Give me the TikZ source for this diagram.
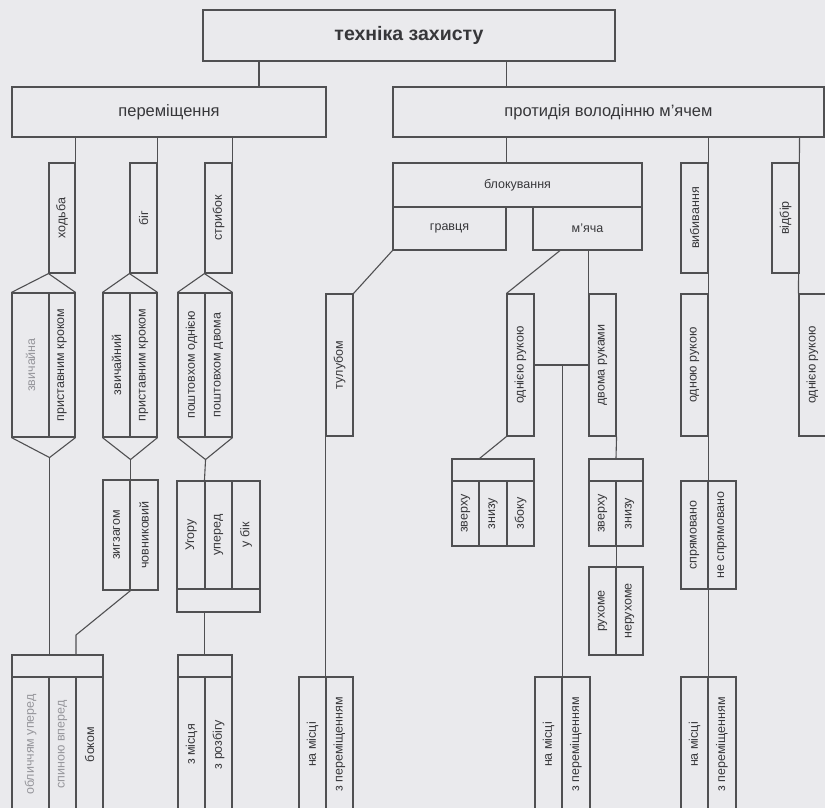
\documentclass[tikz,border=0pt]{standalone}
\usepackage{fontspec}
\setmainfont{Liberation Sans}
\usepackage{graphicx}
\usetikzlibrary{positioning}
\definecolor{pagebg}{RGB}{234,234,237}
\definecolor{linec}{RGB}{80,80,82}
\definecolor{textc}{RGB}{55,55,58}
\definecolor{fadec}{RGB}{150,150,155}
\newcommand{\vlabel}[1]{\rotatebox{90}{#1}}

\begin{document}
\begin{tikzpicture}[
  x=1pt, y=-1pt,
  box/.style={draw=linec, fill=pagebg, line width=1.1pt, inner sep=0pt, text=textc},
  head/.style={box, font=\fontsize{16.5}{18}\selectfont},
  sub/.style={box, font=\fontsize{12.5}{14}\selectfont},
  cell/.style={box, font=\fontsize{12.5}{14}\selectfont},
  faded/.style={text=fadec},
  link/.style={draw=linec, line width=1.1pt},
]
\useasboundingbox (0,0) rectangle (825,808);
\fill[pagebg] (0,0) rectangle (825,808);

\node[box, font=\bfseries\fontsize{19.5}{21}\selectfont, minimum width=412, minimum height=51] (title) at (409,35.5) {техніка захисту};
\node[head, minimum width=314, minimum height=50] (move) at (169,112) {переміщення};
\node[head, minimum width=431, minimum height=50] (ctr) at (608.5,112) {протидія володінню м’ячем};

\node[cell, minimum width=26, minimum height=110] (walk) at (62,218) {\vlabel{ходьба}};
\node[cell, minimum width=27, minimum height=110] (run) at (143.5,218) {\vlabel{біг}};
\node[cell, minimum width=27, minimum height=110] (jump) at (218.5,218) {\vlabel{стрибок}};

\node[cell, faded, minimum width=37, minimum height=144] (walka) at (30.5,365) {\vlabel{звичайна}};
\node[cell, minimum width=26, minimum height=144] (walkb) at (62,365) {\vlabel{приставним кроком}};
\node[cell, minimum width=27, minimum height=144] (runa) at (116.5,365) {\vlabel{звичайний}};
\node[cell, minimum width=27, minimum height=144] (runb) at (143.5,365) {\vlabel{приставним кроком}};
\node[cell, minimum width=27, minimum height=144] (jumpa) at (191.5,365) {\vlabel{поштовхом однією}};
\node[cell, minimum width=27, minimum height=144] (jumpb) at (218.5,365) {\vlabel{поштовхом двома}};

\node[cell, minimum width=27, minimum height=110] (zig) at (116.5,535) {\vlabel{зигзагом}};
\node[cell, minimum width=28, minimum height=110] (shut) at (144,535) {\vlabel{човниковий}};
\node[cell, minimum width=28, minimum height=108] (up) at (191,535) {\vlabel{Угору}};
\node[cell, minimum width=27, minimum height=108] (fwd) at (218.5,535) {\vlabel{уперед}};
\node[cell, minimum width=28, minimum height=108] (side) at (246,535) {\vlabel{у бік}};
\node[cell, minimum width=83, minimum height=23] (upbar) at (218.5,600.5) {};

\node[cell, minimum width=91, minimum height=22] (wayhd) at (57.5,666) {};
\node[cell, faded, minimum width=37, minimum height=135] (waya) at (30.5,744.5) {\vlabel{обличчям уперед}};
\node[cell, faded, minimum width=27, minimum height=135] (wayb) at (62.5,744.5) {\vlabel{спиною вперед}};
\node[cell, minimum width=27, minimum height=135] (wayc) at (89.5,744.5) {\vlabel{боком}};
\node[cell, minimum width=54, minimum height=22] (starthd) at (205,666) {};
\node[cell, minimum width=27, minimum height=135] (starta) at (191.5,744.5) {\vlabel{з місця}};
\node[cell, minimum width=27, minimum height=135] (startb) at (218.5,744.5) {\vlabel{з розбігу}};

\node[sub, minimum width=249, minimum height=44] (blk) at (517.5,185) {блокування};
\node[sub, minimum width=113, minimum height=43] (plr) at (449.5,228.5) {гравця};
\node[sub, minimum width=109, minimum height=43] (ball) at (587.5,228.5) {м’яча};

\node[cell, minimum width=27, minimum height=142] (trunk) at (339.5,365) {\vlabel{тулубом}};
\node[cell, minimum width=27, minimum height=135] (trunka) at (312.5,744.5) {\vlabel{на місці}};
\node[cell, minimum width=27, minimum height=135] (trunkb) at (339.5,744.5) {\vlabel{з переміщенням}};

\node[cell, minimum width=27, minimum height=142] (one) at (520.5,365) {\vlabel{однією рукою}};
\node[cell, minimum width=27, minimum height=142] (two) at (602.5,365) {\vlabel{двома руками}};
\node[cell, minimum width=82, minimum height=22] (onehd) at (493,470) {};
\node[cell, minimum width=27, minimum height=65] (onea) at (465.5,513.5) {\vlabel{зверху}};
\node[cell, minimum width=28, minimum height=65] (oneb) at (493,513.5) {\vlabel{знизу}};
\node[cell, minimum width=27, minimum height=65] (onec) at (520.5,513.5) {\vlabel{збоку}};
\node[cell, minimum width=54, minimum height=22] (twohd) at (616,470) {};
\node[cell, minimum width=27, minimum height=65] (twoa) at (602.5,513.5) {\vlabel{зверху}};
\node[cell, minimum width=27, minimum height=65] (twob) at (629.5,513.5) {\vlabel{знизу}};
\node[cell, minimum width=27, minimum height=88] (mova) at (602.5,611) {\vlabel{рухоме}};
\node[cell, minimum width=27, minimum height=88] (movb) at (629.5,611) {\vlabel{нерухоме}};
\node[cell, minimum width=27, minimum height=135] (handa) at (548.5,744.5) {\vlabel{на місці}};
\node[cell, minimum width=28, minimum height=135] (handb) at (576,744.5) {\vlabel{з переміщенням}};

\node[cell, minimum width=27, minimum height=110] (knock) at (694.5,218) {\vlabel{вибивання}};
\node[cell, minimum width=27, minimum height=142] (knocka) at (694.5,365) {\vlabel{одною рукою}};
\node[cell, minimum width=27, minimum height=108] (aim) at (694.5,535) {\vlabel{спрямовано}};
\node[cell, minimum width=28, minimum height=108] (noaim) at (722,535) {\vlabel{не спрямовано}};
\node[cell, minimum width=27, minimum height=135] (kicka) at (694.5,744.5) {\vlabel{на місці}};
\node[cell, minimum width=28, minimum height=135] (kickb) at (722,744.5) {\vlabel{з переміщенням}};
\node[cell, minimum width=27, minimum height=110] (take) at (785.5,218) {\vlabel{відбір}};
\node[cell, minimum width=27, minimum height=142] (takea) at (812.5,365) {\vlabel{однією рукою}};

\coordinate (hxw) at ([yshift=-20pt]walka.south east);
\coordinate (hxr) at ([yshift=-22pt]runa.south east);
\coordinate (hxj) at ([yshift=-22pt]jumpa.south east);
\coordinate (zigbend) at (76,635);

\draw[link] (title.south -| 259,0) -- (move.north -| 259,0);
\draw[link] (title.south -| plr.east) -- (ctr.north -| plr.east);
\draw[link] (ctr.south -| plr.east) -- (blk.north -| plr.east);
\draw[link] (move.south -| walk.east) -- (walk.north east);
\draw[link] (move.south -| run.east) -- (run.north east);
\draw[link] (move.south -| jump.east) -- (jump.north east);
\draw[link] (walka.north west) -- (walk.south west) -- (walkb.north east);
\draw[link] (walka.south west) -- (hxw) -- (walkb.south east);
\draw[link] (hxw) -- (wayhd.north -| hxw);
\draw[link] (runa.north west) -- (run.south west) -- (runb.north east);
\draw[link] (runa.south west) -- (hxr) -- (runb.south east);
\draw[link] (hxr) -- (zig.north east);
\draw[link] (jumpa.north west) -- (jump.south west) -- (jumpb.north east);
\draw[link] (jumpa.south west) -- (hxj) -- (jumpb.south east);
\draw[link] (hxj) -- (fwd.north west);
\draw[link] (zig.south east) -- (zigbend) -- (wayhd.north -| zigbend);
\draw[link] (upbar.south -| fwd.west) -- (starthd.north -| fwd.west);
\draw[link] (plr.south west) -- (trunk.north east);
\draw[link] (trunk.south west) -- (trunkb.north west);
\draw[link] (ball.south -| 560,0) -- (one.north west);
\draw[link] (ball.south -| two.west) -- (two.north west);
\draw[link] (one.east) -- (two.west);
\draw[link] (one.east -| handa.east) -- (handa.north east);
\draw[link] (one.south west) -- (onehd.north -| onea.east);
\draw[link] (two.south east) -- (twohd.north);
\draw[link] (twoa.south east) -- (mova.north east);
\draw[link] (ctr.south -| knock.east) -- (aim.north east);
\draw[link] (aim.south east) -- (kicka.north east);
\draw[link] (ctr.south -| take.east) -- (takea.north west);
\end{tikzpicture}
\end{document}
